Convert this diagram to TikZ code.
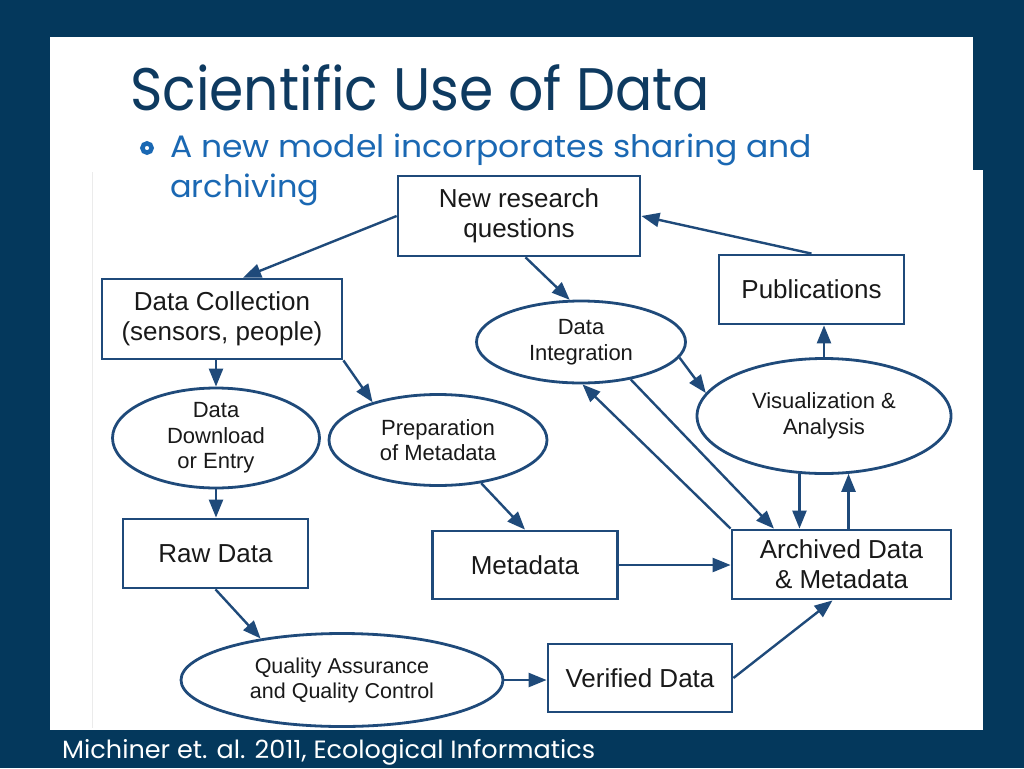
\documentclass[tikz,border=0pt]{standalone}
\usepackage{fontspec}
\setmainfont{Liberation Sans}
\newfontfamily\slidefont{Poppins}
\usetikzlibrary{shapes.geometric,arrows.meta}
\definecolor{navy}{HTML}{04385C}
\definecolor{titleblue}{HTML}{0E3A60}
\definecolor{bulletblue}{HTML}{1A68B3}
\definecolor{linkblue}{HTML}{1F4A7A}
\begin{document}
\begin{tikzpicture}[x=1pt,y=-1pt,
box/.style={draw=linkblue,line width=2.8pt,fill=white,inner sep=0pt,align=center,text=black!90,font=\fontsize{26}{30}\selectfont},
oval/.style={ellipse,draw=linkblue,line width=2.8pt,fill=white,inner sep=0pt,align=center,text=black!90,font=\fontsize{22}{25.5}\selectfont},
flow/.style={draw=linkblue,line width=2.4pt,-{Triangle[length=18pt,width=14pt]}},
slidetext/.style={anchor=base west,inner sep=0pt}]
\useasboundingbox(0,0)rectangle(1024,768);
% slide
\fill[navy](0,0)rectangle(1024,768);
\fill[white](50,37)rectangle(973,730);
\fill[white](92,170)rectangle(983,730);
\draw[black!8,line width=1pt](92,172)--(92,728);
\node[slidetext,text=titleblue,font=\slidefont\fontsize{60}{60}\selectfont](title)at(130,110){\resizebox{580pt}{\height}{Scientific Use of Data}};
\draw[bulletblue,line width=4.5pt](147,148)circle(4.6pt);
\node[slidetext,text=bulletblue,font=\slidefont\fontsize{31}{31}\selectfont](line1)at(170,157){\resizebox{642pt}{\height}{A new model incorporates sharing and}};
\node[slidetext,text=bulletblue,font=\slidefont\fontsize{31}{31}\selectfont](line2)at(170,197){\resizebox{149pt}{\height}{archiving}};
\node[slidetext,text=white,font=\slidefont\fontsize{25}{25}\selectfont](source)at(62,758){\resizebox{533pt}{\height}{Michiner et. al. 2011, Ecological Informatics}};
% boxes
\node[box,minimum width=242pt,minimum height=80pt](nrq)at(519,216){New research\\questions};
\node[box,minimum width=240pt,minimum height=80pt](dcol)at(222,319){Data Collection\\(sensors, people)};
\node[box,minimum width=185pt,minimum height=69pt](raw)at(215.5,553.5){Raw Data};
\node[box,minimum width=185pt,minimum height=68pt](meta)at(525,565){Metadata};
\node[box,minimum width=185pt,minimum height=69pt](pub)at(811.5,289.5){Publications};
\node[box,minimum width=219pt,minimum height=69pt](arch)at(841.5,564.5){Archived Data\\\& Metadata};
\node[box,minimum width=184pt,minimum height=68pt](ver)at(640,678){Verified Data};
% ovals
\node[oval,minimum width=207pt,minimum height=91pt](ddl)at(216,438){Data\\Download\\or Entry};
\node[oval,minimum width=218pt,minimum height=91pt](prep)at(438,440){Preparation\\of Metadata};
\node[oval,minimum width=209pt,minimum height=82pt](dint)at(581,342){Data\\Integration};
\node[oval,minimum width=254pt,minimum height=115pt](vis)at(824,416){Visualization \&\\Analysis};
\node[oval,minimum width=322pt,minimum height=93pt,font=\fontsize{21.5}{25}\selectfont](qa)at(342,680){Quality Assurance\\and Quality Control};
% arrows
\draw[flow](nrq.west)--(dcol.63);
\draw[flow](pub.north)--(nrq.east);
\draw[flow](nrq.-81)--(dint.105);
\draw[flow](dcol.south -| ddl.north)--(ddl.north);
\draw[flow](dcol.south east)--(prep.150);
\draw[flow](ddl.south)--(ddl.south |- raw.north);
\draw[flow](raw.south)--(qa.153);
\draw[flow](prep.-45)--(meta.north);
\draw[flow](meta.east)--(meta.east -| arch.west);
\draw[flow](dint.-9)--(vis.169);
\draw[flow](arch.north west)--(dint.-88);
\draw[flow](dint.-37)--(arch.152);
\draw[flow](vis.-113)--(vis.-113 |- arch.north);
\draw[flow](vis.-67 |- arch.north)--(vis.-67);
\draw[flow](vis.north)--(vis.north |- pub.south);
\draw[flow](qa.east)--(qa.east -| ver.west);
\draw[flow](ver.east)--(arch.-104);
\end{tikzpicture}
\end{document}
